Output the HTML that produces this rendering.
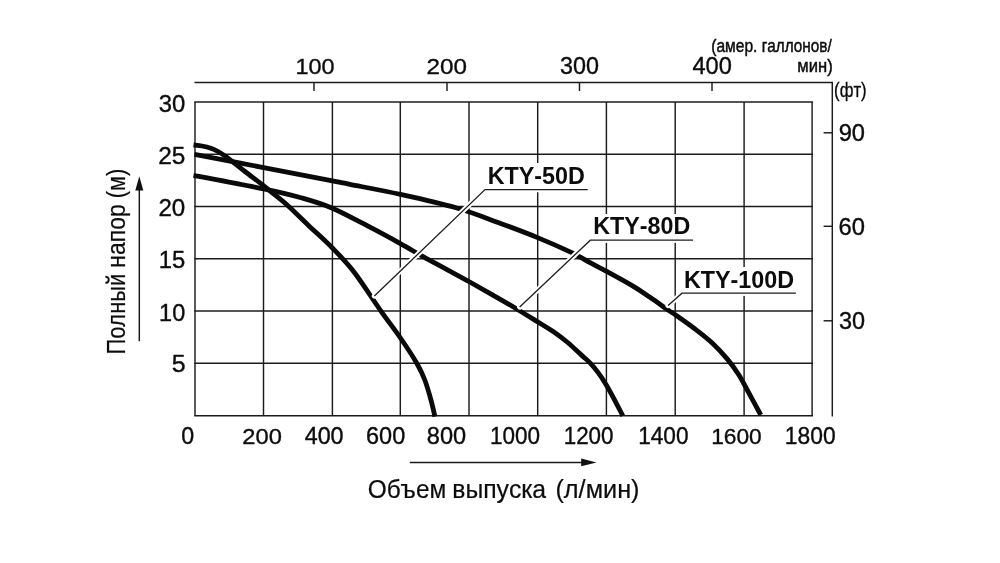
<!DOCTYPE html>
<html><head><meta charset="utf-8"><title>Pump performance curves</title>
<style>
html,body{margin:0;padding:0;background:#fff;}
body{width:1000px;height:563px;overflow:hidden;font-family:"Liberation Sans",sans-serif;}
svg{display:block;will-change:transform;}
</style></head><body>
<svg width="1000" height="563" viewBox="0 0 1000 563">
<rect width="1000" height="563" fill="#fff"/>
<g stroke="#1c1c1c" stroke-width="1.45" fill="none">
<line x1="195.00" y1="102.00" x2="195.00" y2="415.80"/>
<line x1="263.50" y1="102.00" x2="263.50" y2="415.80"/>
<line x1="332.40" y1="102.00" x2="332.40" y2="415.80"/>
<line x1="400.30" y1="102.00" x2="400.30" y2="415.80"/>
<line x1="469.00" y1="102.00" x2="469.00" y2="415.80"/>
<line x1="537.70" y1="102.00" x2="537.70" y2="415.80"/>
<line x1="606.40" y1="102.00" x2="606.40" y2="415.80"/>
<line x1="675.20" y1="102.00" x2="675.20" y2="415.80"/>
<line x1="744.10" y1="102.00" x2="744.10" y2="415.80"/>
<line x1="812.10" y1="102.00" x2="812.10" y2="415.80"/>
<line x1="194.25" y1="102.00" x2="813.05" y2="102.00"/>
<line x1="194.25" y1="154.30" x2="813.05" y2="154.30"/>
<line x1="194.25" y1="206.50" x2="813.05" y2="206.50"/>
<line x1="194.25" y1="258.70" x2="813.05" y2="258.70"/>
<line x1="194.25" y1="311.00" x2="813.05" y2="311.00"/>
<line x1="194.25" y1="363.30" x2="813.05" y2="363.30"/>
<line x1="194.25" y1="415.80" x2="813.05" y2="415.80"/>
<path d="M194.5 82.5 H832.3 V416.5"/>
<line x1="314.00" y1="82.5" x2="314.00" y2="91"/>
<line x1="447.00" y1="82.5" x2="447.00" y2="91"/>
<line x1="579.50" y1="82.5" x2="579.50" y2="91"/>
<line x1="712.00" y1="82.5" x2="712.00" y2="91"/>
<line x1="823.6" y1="132.80" x2="832.3" y2="132.80"/>
<line x1="823.6" y1="226.30" x2="832.3" y2="226.30"/>
<line x1="823.6" y1="320.80" x2="832.3" y2="320.80"/>
</g>
<g stroke="#0a0a0a" stroke-width="4.8" fill="none" stroke-linecap="butt" stroke-linejoin="round">
<path d="M194.50 154.30 C206.02 156.52 240.62 163.17 263.60 167.60 C286.58 172.03 318.00 178.10 332.40 180.90 C346.80 183.70 338.65 182.15 350.00 184.40 C361.35 186.65 382.70 190.47 400.50 194.40 C418.30 198.33 440.22 203.20 456.80 208.00 C473.38 212.80 486.53 218.27 500.00 223.20 C513.47 228.13 525.73 232.73 537.60 237.60 C549.47 242.47 562.47 248.23 571.20 252.40 C579.93 256.57 584.12 259.45 590.00 262.60 C595.88 265.75 599.40 267.42 606.50 271.30 C613.60 275.18 625.35 281.57 632.60 285.90 C639.85 290.23 643.95 293.18 650.00 297.30 C656.05 301.42 664.63 307.65 668.90 310.60 C673.17 313.55 671.35 312.02 675.60 315.00 C679.85 317.98 688.30 323.83 694.40 328.50 C700.50 333.17 706.63 337.82 712.20 343.00 C717.77 348.18 723.35 354.27 727.80 359.60 C732.25 364.93 735.57 369.77 738.90 375.00 C742.23 380.23 744.15 384.33 747.80 391.00 C751.45 397.67 758.63 411.00 760.80 415.00"/>
<path d="M193.50 175.30 C205.18 177.57 245.52 185.12 263.60 188.90 C281.68 192.68 290.53 194.78 302.00 198.00 C313.47 201.22 321.07 203.33 332.40 208.20 C343.73 213.07 358.67 221.30 370.00 227.20 C381.33 233.10 391.55 238.70 400.40 243.60 C409.25 248.50 415.33 252.27 423.10 256.60 C430.87 260.93 439.37 265.45 447.00 269.60 C454.63 273.75 461.40 277.33 468.90 281.50 C476.40 285.67 484.23 290.15 492.00 294.60 C499.77 299.05 507.85 303.63 515.50 308.20 C523.15 312.77 531.50 318.03 537.90 322.00 C544.30 325.97 548.93 328.58 553.90 332.00 C558.87 335.42 563.02 338.57 567.70 342.50 C572.38 346.43 578.28 352.22 582.00 355.60 C585.72 358.98 587.33 360.00 590.00 362.80 C592.67 365.60 595.33 368.80 598.00 372.40 C600.67 376.00 603.33 380.00 606.00 384.40 C608.67 388.80 611.20 393.57 614.00 398.80 C616.80 404.03 621.33 412.97 622.80 415.80"/>
<path d="M193.50 145.00 C194.92 145.17 199.12 145.47 202.00 146.00 C204.88 146.53 208.13 147.28 210.80 148.20 C213.47 149.12 215.33 150.00 218.00 151.50 C220.67 153.00 222.30 153.87 226.80 157.20 C231.30 160.53 238.88 166.77 245.00 171.50 C251.12 176.23 258.50 181.68 263.50 185.60 C268.50 189.52 270.78 191.52 275.00 195.00 C279.22 198.48 283.30 201.50 288.80 206.50 C294.30 211.50 300.73 218.08 308.00 225.00 C315.27 231.92 324.73 240.17 332.40 248.00 C340.07 255.83 345.93 261.53 354.00 272.00 C362.07 282.47 373.00 299.72 380.80 310.80 C388.60 321.88 394.80 329.77 400.80 338.50 C406.80 347.23 412.80 356.28 416.80 363.20 C420.80 370.12 422.40 373.73 424.80 380.00 C427.20 386.27 429.52 394.70 431.20 400.80 C432.88 406.90 434.28 413.97 434.90 416.60"/>
</g>
<rect x="485.0" y="163.0" width="103.0" height="29.0" fill="#fff"/>
<path d="M587.70 189.60 L485.00 189.60 L374.40 296.00" stroke="#fff" stroke-width="5.2" fill="none" stroke-linecap="round" stroke-linejoin="round"/>
<path d="M587.70 189.60 L485.00 189.60 L374.40 296.00" stroke="#1c1c1c" stroke-width="1.3" fill="none"/>
<rect x="590.0" y="214.0" width="103.0" height="28.5" fill="#fff"/>
<path d="M693.00 240.20 L590.30 240.20 L519.70 307.00" stroke="#fff" stroke-width="5.2" fill="none" stroke-linecap="round" stroke-linejoin="round"/>
<path d="M693.00 240.20 L590.30 240.20 L519.70 307.00" stroke="#1c1c1c" stroke-width="1.3" fill="none"/>
<rect x="682.0" y="267.0" width="114.0" height="28.5" fill="#fff"/>
<path d="M795.80 293.20 L682.00 293.20 L668.10 305.50" stroke="#fff" stroke-width="5.2" fill="none" stroke-linecap="round" stroke-linejoin="round"/>
<path d="M795.80 293.20 L682.00 293.20 L668.10 305.50" stroke="#1c1c1c" stroke-width="1.3" fill="none"/>
<g font-family="'Liberation Sans', sans-serif" fill="#0c0c0c" style="font-kerning:none">
<text transform="translate(487.64 184.00) scale(1.0068 1)" font-size="23.2" font-weight="bold">KTY-50D</text>
<text transform="translate(593.24 234.30) scale(1.0036 1)" font-size="23.2" font-weight="bold">KTY-80D</text>
<text transform="translate(683.94 287.80) scale(1.0060 1)" font-size="23.2" font-weight="bold">KTY-100D</text>
<text transform="translate(158.79 112.20) scale(1.0374 1)" font-size="23.0" stroke="#0c0c0c" stroke-width="0.35">30</text>
<text transform="translate(158.17 164.10) scale(1.0614 1)" font-size="23.0" stroke="#0c0c0c" stroke-width="0.35">25</text>
<text transform="translate(158.39 216.40) scale(1.0498 1)" font-size="23.0" stroke="#0c0c0c" stroke-width="0.35">20</text>
<text transform="translate(158.78 268.30) scale(1.0365 1)" font-size="23.0" stroke="#0c0c0c" stroke-width="0.35">15</text>
<text transform="translate(159.11 320.60) scale(1.0204 1)" font-size="23.0" stroke="#0c0c0c" stroke-width="0.35">10</text>
<text transform="translate(171.70 372.30) scale(1.0821 1)" font-size="23.0" stroke="#0c0c0c" stroke-width="0.35">5</text>
<text transform="translate(181.29 443.60) scale(1.0096 1)" font-size="23.0" stroke="#0c0c0c" stroke-width="0.35">0</text>
<text transform="translate(242.31 443.60) scale(1.0325 1)" font-size="23.0" stroke="#0c0c0c" stroke-width="0.35">200</text>
<text transform="translate(304.66 443.60) scale(1.0149 1)" font-size="23.0" stroke="#0c0c0c" stroke-width="0.35">400</text>
<text transform="translate(366.01 443.60) scale(1.0218 1)" font-size="23.0" stroke="#0c0c0c" stroke-width="0.35">600</text>
<text transform="translate(426.78 443.60) scale(1.0253 1)" font-size="23.0" stroke="#0c0c0c" stroke-width="0.35">800</text>
<text transform="translate(489.98 443.60) scale(0.9791 1)" font-size="23.0" stroke="#0c0c0c" stroke-width="0.35">1000</text>
<text transform="translate(563.69 443.60) scale(0.9749 1)" font-size="23.0" stroke="#0c0c0c" stroke-width="0.35">1200</text>
<text transform="translate(638.17 443.60) scale(0.9852 1)" font-size="23.0" stroke="#0c0c0c" stroke-width="0.35">1400</text>
<text transform="translate(711.17 443.60) scale(0.9894 1)" font-size="23.0" stroke="#0c0c0c" stroke-width="0.35">1600</text>
<text transform="translate(784.86 443.60) scale(0.9914 1)" font-size="23.0" stroke="#0c0c0c" stroke-width="0.35">1800</text>
<text transform="translate(295.51 73.60) scale(1.0189 1)" font-size="23.0" stroke="#0c0c0c" stroke-width="0.35">100</text>
<text transform="translate(426.48 73.60) scale(1.0545 1)" font-size="23.0" stroke="#0c0c0c" stroke-width="0.35">200</text>
<text transform="translate(560.11 73.60) scale(1.0164 1)" font-size="23.0" stroke="#0c0c0c" stroke-width="0.35">300</text>
<text transform="translate(692.46 73.60) scale(1.0285 1)" font-size="23.0" stroke="#0c0c0c" stroke-width="0.35">400</text>
<text transform="translate(838.69 140.60) scale(1.0294 1)" font-size="23.0" stroke="#0c0c0c" stroke-width="0.35">90</text>
<text transform="translate(838.59 235.00) scale(1.0333 1)" font-size="23.0" stroke="#0c0c0c" stroke-width="0.35">60</text>
<text transform="translate(838.91 329.40) scale(1.0206 1)" font-size="23.0" stroke="#0c0c0c" stroke-width="0.35">30</text>
<text transform="translate(711.23 51.80) scale(0.8845 1)" font-size="17.6" stroke="#0c0c0c" stroke-width="0.45">(амер.</text>
<text transform="translate(761.74 51.80) scale(0.8715 1)" font-size="17.6" stroke="#0c0c0c" stroke-width="0.45">галлонов/</text>
<text transform="translate(797.35 72.30) scale(0.9432 1)" font-size="17.6" stroke="#0c0c0c" stroke-width="0.45">мин)</text>
<text transform="translate(834.06 96.90) scale(0.7968 1)" font-size="21" stroke="#0c0c0c" stroke-width="0.35">(фт)</text>
<text transform="translate(367.64 498.20) scale(0.9542 1)" font-size="25.6" stroke="#0c0c0c" stroke-width="0.20">Объем</text>
<text transform="translate(452.28 498.20) scale(0.9671 1)" font-size="25.6" stroke="#0c0c0c" stroke-width="0.20">выпуска</text>
<text transform="translate(555.43 498.20) scale(0.9883 1)" font-size="25.6" stroke="#0c0c0c" stroke-width="0.20">(л/мин)</text>
</g>
<g font-family="'Liberation Sans', sans-serif" fill="#0c0c0c" style="font-kerning:none" transform="translate(124.8 352.8) rotate(-90)">
<text transform="translate(-1.78 0) scale(0.8569 1)" font-size="25.6" stroke="#0c0c0c" stroke-width="0.20">Полный</text>
<text transform="translate(85.11 0) scale(0.8959 1)" font-size="25.6" stroke="#0c0c0c" stroke-width="0.20">напор</text>
<text transform="translate(154.65 0) scale(0.8483 1)" font-size="25.6" stroke="#0c0c0c" stroke-width="0.20">(м)</text>
</g>
<g stroke="#1c1c1c" stroke-width="1.5" fill="none">
<line x1="409.8" y1="462.4" x2="584" y2="462.4"/>
<line x1="139.3" y1="341.2" x2="139.3" y2="189"/>
</g>
<path d="M596.5 462.4 L581.2 458.6 L581.2 466.2 Z" fill="#111"/>
<path d="M139.3 176.3 L135.3 190.6 L143.3 190.6 Z" fill="#111"/>
</svg>
</body></html>
